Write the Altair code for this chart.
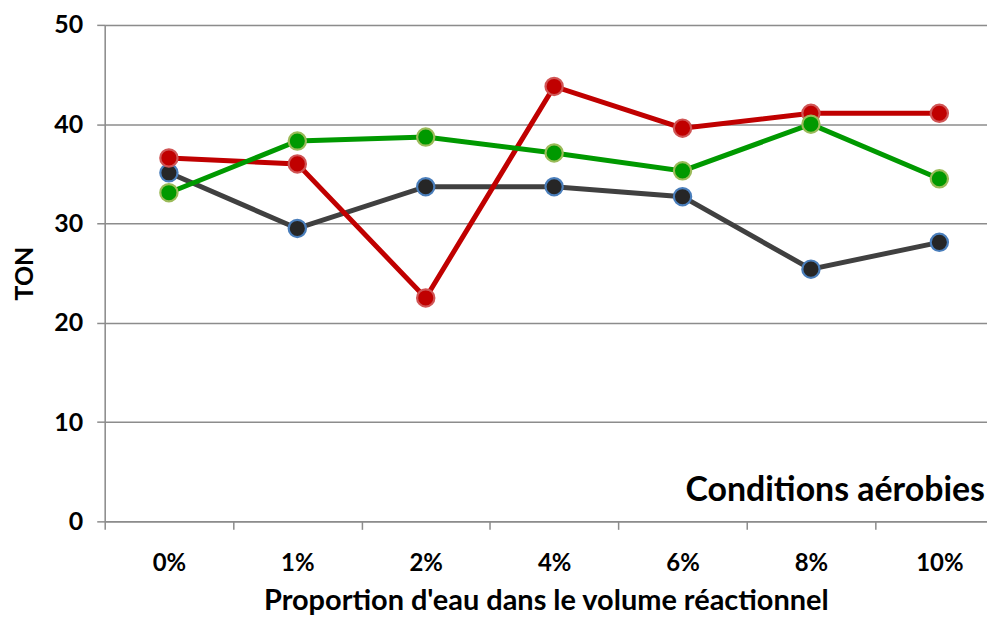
import altair as alt
import pandas as pd

categories = ["0%", "1%", "2%", "4%", "6%", "8%", "10%"]
series_names = ["Série 1", "Série 2", "Série 3"]
dark_values = [35.1, 29.5, 33.7, 33.7, 32.7, 25.4, 28.1]
red_values = [36.6, 36.0, 22.5, 43.8, 39.6, 41.1, 41.1]
green_values = [33.1, 38.3, 38.7, 37.1, 35.3, 40.0, 34.5]
line_colors = ["#404040", "#C00000", "#009900"]
fill_colors = ["#262626", "#C00000", "#009900"]
stroke_colors = ["#4A7EBB", "#D05555", "#9BBB59"]
annotation = "Conditions aérobies"

rows = []
for name, vals in zip(series_names, [dark_values, red_values, green_values]):
    for i, (c, v) in enumerate(zip(categories, vals)):
        rows.append({"serie": name, "idx": i, "cat": c, "TON": v})
df = pd.DataFrame(rows)

W, H = 885, 498
band = 128.8
x_end = -0.5 + W / band
FONT = "Lato"
GRID = "#8C8C8C"

xscale = alt.Scale(domain=[-0.5, x_end], nice=False, zero=False)
yscale = alt.Scale(domain=[0, 50], nice=False)

label_expr = "[" + ",".join(f"'{c}'" for c in categories) + "][round(datum.value)]"

color = alt.Color("serie:N", scale=alt.Scale(domain=series_names, range=line_colors), legend=None)

lines = alt.Chart(df).mark_line(strokeWidth=5).encode(
    x=alt.X("idx:Q", scale=xscale,
            axis=alt.Axis(values=[i - 0.5 for i in range(7)], labels=False, ticks=True,
                          tickSize=8, tickColor=GRID, tickWidth=1.5, domainColor=GRID,
                          domainWidth=1.5, grid=False,
                          title="Proportion d'eau dans le volume réactionnel",
                          titleFont=FONT, titleFontSize=29, titleFontWeight="bold",
                          titleColor="black", titlePadding=57, orient="bottom")),
    y=alt.Y("TON:Q", scale=yscale,
            axis=alt.Axis(values=[0, 10, 20, 30, 40, 50], grid=True, gridColor=GRID,
                          gridWidth=1.5, domainColor=GRID, domainWidth=1.5,
                          tickColor=GRID, tickWidth=1.5, tickSize=8,
                          labelFont=FONT, labelFontSize=25, labelFontWeight="bold",
                          labelColor="black", labelPadding=14,
                          title="TON", titleFont=FONT, titleFontSize=25,
                          titleFontWeight="bold", titleColor="black", titlePadding=16)),
    color=color,
    order="idx:Q",
)

points = alt.Chart(df).mark_point(filled=True, size=300, strokeWidth=2.2, opacity=1).encode(
    x=alt.X("idx:Q", scale=xscale,
            axis=alt.Axis(values=list(range(7)), labelExpr=label_expr, ticks=False,
                          domain=False, grid=False, title=None, orient="bottom",
                          labelFont=FONT, labelFontSize=24, labelFontWeight="bold",
                          labelColor="black", labelPadding=30)),
    y=alt.Y("TON:Q", scale=yscale),
    fill=alt.Fill("serie:N", scale=alt.Scale(domain=series_names, range=fill_colors), legend=None),
    stroke=alt.Stroke("serie:N", scale=alt.Scale(domain=series_names, range=stroke_colors), legend=None),
)

ann = alt.Chart(pd.DataFrame({"t": [annotation], "y": [2.1]})).mark_text(
    align="right", baseline="alphabetic", font=FONT, fontSize=34, fontWeight="bold", color="black"
).encode(x=alt.value(W - 2), y=alt.Y("y:Q", scale=yscale), text="t:N")

chart = alt.layer(lines, points, ann).resolve_axis(x="independent").resolve_scale(
    color="independent"
).properties(
    width=W, height=H,
    autosize=alt.AutoSizeParams(type="none"),
    padding={"left": 97, "top": 16, "right": 0, "bottom": 96},
).configure_view(stroke=None).configure(background="white")

chart.save("out.html", embed_options={"renderer": "svg", "actions": False})
